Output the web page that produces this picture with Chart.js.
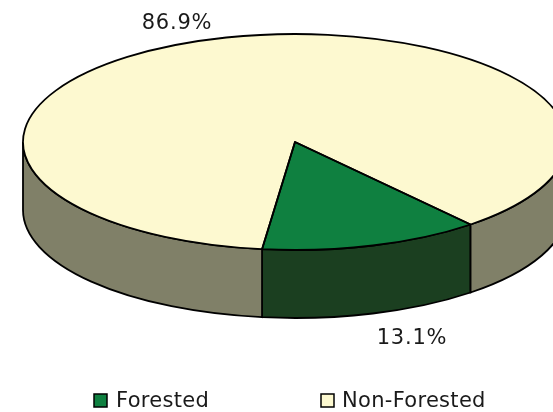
<!DOCTYPE html>
<html>
<head>
<meta charset="utf-8">
<title>Forest cover</title>
<script src="https://cdn.jsdelivr.net/npm/chart.js@4"></script>
<style>
html, body { margin: 0; padding: 0; background: #fff; overflow: hidden; }
#wrap { width: 553px; height: 412px; }
</style>
</head>
<body>
<div id="wrap"><canvas id="chart" width="553" height="412"></canvas></div>
<script>
const categories = ['Forested', 'Non-Forested'];
const shares = [13.1, 86.9];
const shareLabels = ['13.1%', '86.9%'];
const topColors = ['#0f8040', '#fdf9d0'];
const wallColors = ['#1b3f20', '#808068'];

// ellipse the flat pie gets squashed onto
const disc = { x: 295, y: 142, rx: 272, ry: 108, depth: 68 };
const labelPos = [[412, 339], [177, 24]];
const legendPos = [[94, 394, 116], [321, 394, 342]];
const textFont = '21px "DejaVu Sans"';

// draws the side wall for the front half, then squashes the library's arcs
const pie3d = {
    id: 'pie3d',
    beforeDatasetsDraw(chart) {
        const ctx = chart.ctx;
        const arcs = chart.getDatasetMeta(0).data;
        ctx.save();
        ctx.lineWidth = 1.8;
        ctx.strokeStyle = '#000';
        arcs.forEach((arc, i) => {
            // front of the wall lies between 0 and PI, also one turn later
            [0, Math.PI * 2].forEach(turn => {
                const from = Math.max(arc.startAngle, turn);
                const to = Math.min(arc.endAngle, turn + Math.PI);
                if (to <= from) return;
                ctx.beginPath();
                ctx.ellipse(disc.x, disc.y, disc.rx, disc.ry, 0, from, to);
                ctx.ellipse(disc.x, disc.y + disc.depth, disc.rx, disc.ry, 0, to, from, true);
                ctx.closePath();
                ctx.fillStyle = wallColors[i];
                ctx.fill();
                ctx.stroke();
            });
        });
        ctx.restore();

        const r = arcs[0].outerRadius;
        ctx.save();
        ctx.translate(disc.x, disc.y);
        ctx.scale(disc.rx / r, disc.ry / r);
        ctx.translate(-arcs[0].x, -arcs[0].y);
    },
    afterDatasetsDraw(chart) {
        const ctx = chart.ctx;
        ctx.restore();
        // outlines here so the line width is not squashed too
        ctx.save();
        ctx.lineWidth = 1.8;
        ctx.strokeStyle = '#000';
        ctx.lineJoin = 'round';
        chart.getDatasetMeta(0).data.forEach(arc => {
            ctx.beginPath();
            ctx.moveTo(disc.x, disc.y);
            ctx.ellipse(disc.x, disc.y, disc.rx, disc.ry, 0, arc.startAngle, arc.endAngle);
            ctx.closePath();
            ctx.stroke();
        });
        ctx.restore();
    },
    afterDraw(chart) {
        const ctx = chart.ctx;
        ctx.save();
        ctx.font = textFont;
        ctx.fillStyle = '#1a1a1a';
        ctx.textBaseline = 'middle';
        ctx.textAlign = 'center';
        ctx.letterSpacing = '0.8px';
        shareLabels.forEach((text, i) => ctx.fillText(text, labelPos[i][0], labelPos[i][1]));

        ctx.letterSpacing = '0.3px';
        ctx.textAlign = 'left';
        ctx.lineWidth = 1.5;
        ctx.strokeStyle = '#000';
        categories.forEach((name, i) => {
            const [bx, by, tx] = legendPos[i];
            ctx.fillStyle = topColors[i];
            ctx.fillRect(bx, by, 13, 13);
            ctx.strokeRect(bx, by, 13, 13);
            ctx.fillStyle = '#1a1a1a';
            ctx.fillText(name, tx, by + 8);
        });
        ctx.restore();
    }
};

new Chart(document.getElementById('chart'), {
    type: 'pie',
    data: {
        labels: categories,
        datasets: [{
            data: shares,
            backgroundColor: topColors,
            borderWidth: 0,
            clip: false
        }]
    },
    options: {
        responsive: false,
        animation: false,
        rotation: 139.8,
        plugins: {
            legend: { display: false },
            tooltip: { enabled: false }
        }
    },
    plugins: [pie3d]
});
</script>
</body>
</html>
